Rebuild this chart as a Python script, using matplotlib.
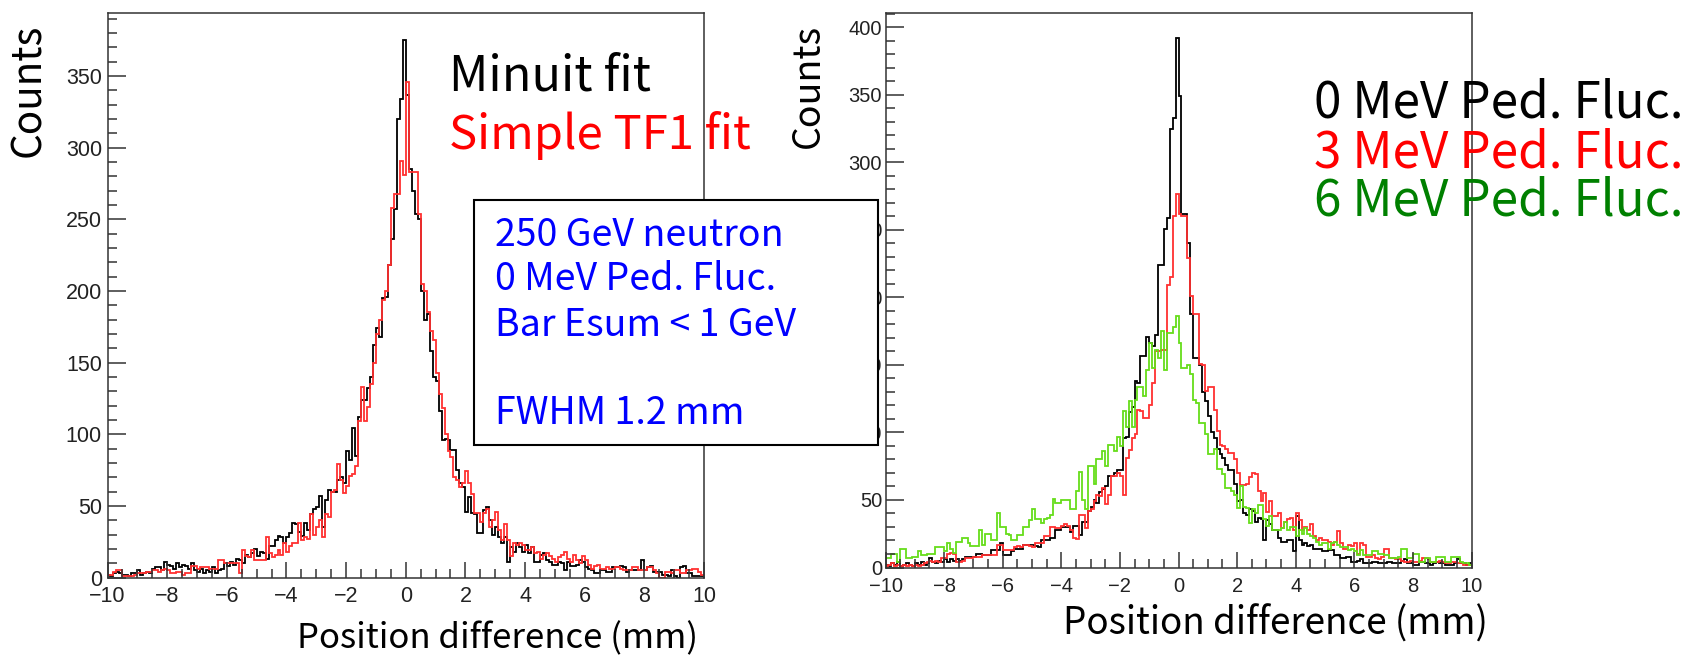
import numpy as np
import matplotlib
matplotlib.use('Agg')
import matplotlib.pyplot as plt
from matplotlib.patches import Rectangle
from matplotlib.ticker import MultipleLocator

# bin edges: 200 bins of 0.1 mm from -10 to 10
edges = np.linspace(-10, 10, 201)

# left panel: 250 GeV neutron, two fit methods
minuit_fit = [
    2, 1, 3, 4, 3, 2, 2, 1, 3, 3,
    5, 2, 3, 4, 3, 6, 7, 7, 5, 11,
    9, 8, 6, 10, 7, 9, 8, 6, 10, 5,
    4, 6, 3, 5, 4, 7, 3, 5, 6, 10,
    8, 11, 9, 13, 12, 10, 16, 14, 17, 20,
    15, 18, 17, 13, 22, 22, 26, 29, 28, 24,
    28, 31, 38, 37, 32, 29, 38, 33, 44, 48,
    49, 57, 35, 54, 61, 60, 60, 68, 70, 66,
    88, 82, 104, 85, 112, 124, 124, 132, 140, 162,
    174, 168, 195, 196, 218, 236, 257, 320, 334, 375,
    337, 285, 270, 254, 250, 200, 180, 184, 158, 140,
    137, 116, 96, 97, 96, 89, 89, 75, 66, 63,
    46, 56, 45, 44, 31, 31, 47, 49, 40, 30,
    35, 28, 24, 28, 11, 21, 18, 24, 21, 18,
    23, 17, 21, 11, 11, 16, 17, 12, 11, 9,
    9, 11, 10, 5, 11, 8, 8, 9, 12, 11,
    7, 6, 5, 3, 3, 5, 5, 4, 4, 7,
    7, 7, 8, 7, 4, 5, 5, 5, 5, 12,
    5, 7, 8, 4, 4, 4, 2, 2, 1, 5,
    1, 0, 7, 8, 3, 3, 1, 1, 1, 1,
]
simple_tf1_fit = [
    2, 2, 4, 5, 5, 1, 1, 1, 1, 2,
    3, 3, 3, 4, 4, 5, 5, 4, 5, 6,
    5, 3, 3, 4, 4, 2, 3, 3, 8, 8,
    6, 7, 7, 7, 6, 6, 6, 12, 12, 10,
    10, 10, 10, 10, 3, 19, 15, 14, 19, 12,
    12, 12, 12, 28, 17, 14, 16, 19, 16, 24,
    18, 22, 24, 24, 38, 26, 28, 27, 44, 30,
    35, 40, 28, 44, 42, 60, 61, 79, 68, 59,
    64, 71, 72, 78, 109, 133, 109, 119, 135, 150,
    170, 180, 194, 200, 218, 258, 268, 268, 291, 281,
    346, 283, 283, 283, 254, 205, 200, 185, 172, 166,
    143, 128, 118, 100, 88, 84, 70, 68, 63, 66,
    74, 66, 58, 45, 45, 39, 45, 48, 35, 40,
    46, 33, 26, 37, 26, 15, 24, 23, 24, 23,
    19, 19, 21, 17, 18, 13, 16, 17, 15, 13,
    11, 14, 16, 18, 13, 11, 16, 12, 10, 15,
    12, 9, 6, 8, 9, 6, 6, 7, 6, 6,
    7, 7, 6, 5, 5, 5, 7, 7, 5, 5,
    5, 7, 7, 5, 3, 0, 0, 4, 4, 3,
    5, 5, 3, 3, 5, 5, 6, 6, 4, 2,
]

# right panel: pedestal fluctuation 0 / 3 / 6 MeV
ped_0mev = [
    2, 1, 3, 2, 4, 1, 2, 3, 2, 1,
    3, 2, 4, 2, 3, 7, 4, 3, 5, 4,
    6, 4, 6, 5, 6, 5, 6, 8, 8, 8,
    8, 10, 10, 9, 9, 9, 13, 13, 13, 18,
    9, 9, 9, 12, 14, 14, 14, 17, 17, 17,
    17, 16, 15, 20, 20, 20, 22, 22, 28, 28,
    30, 30, 30, 26, 31, 31, 24, 34, 34, 42,
    45, 50, 48, 56, 58, 60, 68, 68, 70, 72,
    72, 96, 97, 115, 119, 138, 137, 157, 157, 171,
    166, 164, 172, 224, 224, 251, 259, 325, 333, 392,
    349, 262, 262, 240, 188, 155, 155, 150, 130, 123,
    112, 100, 96, 88, 84, 81, 76, 72, 72, 62,
    49, 50, 40, 39, 43, 42, 34, 37, 36, 20,
    35, 32, 28, 28, 22, 19, 19, 20, 20, 12,
    38, 20, 17, 18, 16, 17, 14, 14, 14, 12,
    12, 13, 13, 9, 9, 7, 7, 8, 8, 4,
    4, 5, 6, 3, 3, 3, 4, 4, 3, 3,
    3, 4, 4, 3, 3, 3, 5, 6, 3, 3,
    2, 2, 4, 4, 3, 3, 2, 3, 4, 3,
    3, 2, 2, 2, 3, 6, 3, 3, 2, 3,
]
ped_3mev = [
    1, 2, 3, 1, 2, 1, 2, 1, 2, 1,
    2, 1, 2, 3, 4, 5, 4, 5, 4, 7,
    7, 10, 11, 10, 4, 4, 5, 7, 7, 7,
    8, 8, 8, 9, 9, 9, 9, 9, 17, 17,
    13, 13, 13, 13, 15, 16, 15, 17, 17, 16,
    15, 18, 18, 18, 23, 23, 30, 30, 29, 29,
    31, 32, 31, 28, 22, 21, 39, 39, 29, 42,
    43, 49, 54, 53, 59, 47, 54, 68, 68, 70,
    68, 54, 81, 87, 96, 99, 117, 116, 111, 111,
    120, 137, 160, 160, 161, 161, 209, 215, 260, 277,
    262, 260, 260, 229, 201, 188, 188, 151, 150, 131,
    134, 134, 117, 101, 91, 90, 88, 85, 85, 80,
    70, 61, 61, 62, 67, 70, 69, 57, 49, 55,
    41, 49, 38, 38, 40, 29, 34, 36, 37, 28,
    40, 35, 28, 30, 28, 32, 23, 20, 22, 20,
    20, 19, 17, 19, 27, 18, 14, 14, 17, 16,
    18, 10, 18, 17, 8, 8, 9, 7, 6, 8,
    14, 14, 7, 7, 6, 6, 5, 4, 4, 5,
    4, 4, 5, 7, 7, 6, 4, 4, 4, 5,
    4, 3, 3, 4, 4, 3, 3, 2, 2, 2,
]
ped_6mev = [
    7, 7, 10, 10, 4, 14, 14, 7, 7, 8,
    8, 12, 9, 9, 10, 10, 10, 15, 15, 15,
    12, 18, 14, 11, 19, 19, 22, 22, 18, 16,
    16, 16, 28, 17, 25, 25, 20, 20, 40, 30,
    30, 25, 24, 20, 20, 24, 24, 30, 30, 35,
    43, 36, 36, 33, 36, 37, 39, 51, 48, 48,
    50, 50, 50, 43, 43, 57, 71, 50, 43, 75,
    75, 62, 80, 80, 86, 75, 91, 91, 86, 97,
    90, 116, 104, 123, 104, 124, 134, 134, 127, 146,
    166, 148, 161, 155, 175, 146, 174, 174, 178, 186,
    166, 148, 148, 150, 143, 124, 122, 107, 107, 99,
    84, 84, 88, 73, 73, 69, 59, 59, 57, 54,
    44, 60, 45, 44, 33, 43, 40, 46, 46, 36,
    31, 38, 28, 28, 28, 29, 34, 28, 30, 30,
    23, 28, 25, 29, 25, 23, 22, 19, 17, 18,
    18, 14, 18, 19, 17, 15, 15, 15, 13, 14,
    12, 9, 13, 9, 9, 9, 12, 12, 10, 10,
    9, 9, 7, 7, 7, 8, 14, 14, 7, 7,
    10, 10, 4, 4, 7, 7, 4, 4, 8, 8,
    8, 4, 4, 8, 8, 8, 4, 3, 3, 2,
]

x_ticks = [-10, -8, -6, -4, -2, 0, 2, 4, 6, 8, 10]

W, H = 1686, 657
fig = plt.figure(figsize=(W / 100, H / 100), dpi=100)
fig.patch.set_facecolor('white')

def fx(px):
    return px / W

def fy(py):
    return 1 - py / H

tick_font = 'Liberation Sans'
txt_font = ['Noto Sans CJK KR', 'DejaVu Sans']


def root_style(ax, ymax, lab_size, ypad, xpad):
    ax.set_xlim(-10, 10)
    ax.set_ylim(0, ymax)
    ax.xaxis.set_major_locator(MultipleLocator(2))
    ax.xaxis.set_minor_locator(MultipleLocator(0.5))
    ax.yaxis.set_major_locator(MultipleLocator(50))
    ax.yaxis.set_minor_locator(MultipleLocator(10))
    ax.tick_params(which='both', direction='in', top=False, right=False,
                   color='#333333', width=1.1)
    ax.tick_params(axis='x', which='major', length=11.5, pad=xpad)
    ax.tick_params(axis='x', which='minor', length=6.5)
    ax.tick_params(axis='y', which='major', length=13, pad=ypad)
    ax.tick_params(axis='y', which='minor', length=6.5)
    for lab in ax.get_xticklabels() + ax.get_yticklabels():
        lab.set_fontfamily(tick_font)
        lab.set_fontsize(lab_size)
        lab.set_color('#222222')
    for sp in ax.spines.values():
        sp.set_linewidth(1.1)
        sp.set_color('#333333')


# ---- left panel ----
ax1 = fig.add_axes([fx(107.5), fy(577.5), fx(596.5), 564.5 / H])
ax1.stairs(minuit_fit, edges, baseline=None, color='black', lw=1.3)
ax1.stairs(simple_tf1_fit, edges, baseline=None, color='#ff3030', lw=1.3)
ax1.set_xticks(x_ticks)
root_style(ax1, 394, 15.5, 4, 6)

# ---- right panel ----
ax2 = fig.add_axes([fx(885.5), fy(567.5), fx(586), 554.5 / H])
ax2.stairs(ped_0mev, edges, baseline=None, color='black', lw=1.3)
ax2.stairs(ped_3mev, edges, baseline=None, color='#ff3030', lw=1.3)
ax2.stairs(ped_6mev, edges, baseline=None, color='#66dd1a', lw=1.3)
ax2.set_xticks(x_ticks)
root_style(ax2, 410.7, 14.5, 2.5, 7)

# axis titles
fig.text(fx(29), fy(24), 'Counts', rotation=90, ha='center', va='top',
         fontsize=29, family=txt_font)
fig.text(fx(808), fy(24), 'Counts', rotation=90, ha='center', va='top',
         fontsize=27, family=txt_font)
fig.text(fx(698), fy(639), 'Position difference (mm)', ha='right', va='center',
         fontsize=25, family=txt_font)
fig.text(fx(1488), fy(624), 'Position difference (mm)', ha='right', va='center',
         fontsize=26.5, family=txt_font)

# left legend text
fig.text(fx(449), fy(77), 'Minuit fit', ha='left', va='center',
         fontsize=35, family=txt_font, color='black')
fig.text(fx(449), fy(136), 'Simple TF1 fit', ha='left', va='center',
         fontsize=34, family=txt_font, color='#ff0000')

# info box
box = Rectangle((fx(474), fy(445)), fx(878) - fx(474), fy(200) - fy(445),
                transform=fig.transFigure, facecolor='white', edgecolor='black',
                lw=1.5, zorder=10)
fig.patches.append(box)
info_lines = ['250 GeV neutron', '0 MeV Ped. Fluc.', 'Bar Esum < 1 GeV', 'FWHM 1.2 mm']
info_y = [236, 280, 325, 414]
for s, yy in zip(info_lines, info_y):
    fig.text(fx(495), fy(yy), s, ha='left', va='center', fontsize=27,
             family=txt_font, color='#0000ff', zorder=11)

# right legend text
ped_labels = ['0 MeV Ped. Fluc.', '3 MeV Ped. Fluc.', '6 MeV Ped. Fluc.']
ped_colors = ['black', '#ff0000', '#008000']
ped_y = [104, 154, 202]
for s, c, yy in zip(ped_labels, ped_colors, ped_y):
    fig.text(fx(1314), fy(yy), s, ha='left', va='center', fontsize=35.5,
             family=txt_font, color=c)

fig.savefig('out.png', dpi=100)
